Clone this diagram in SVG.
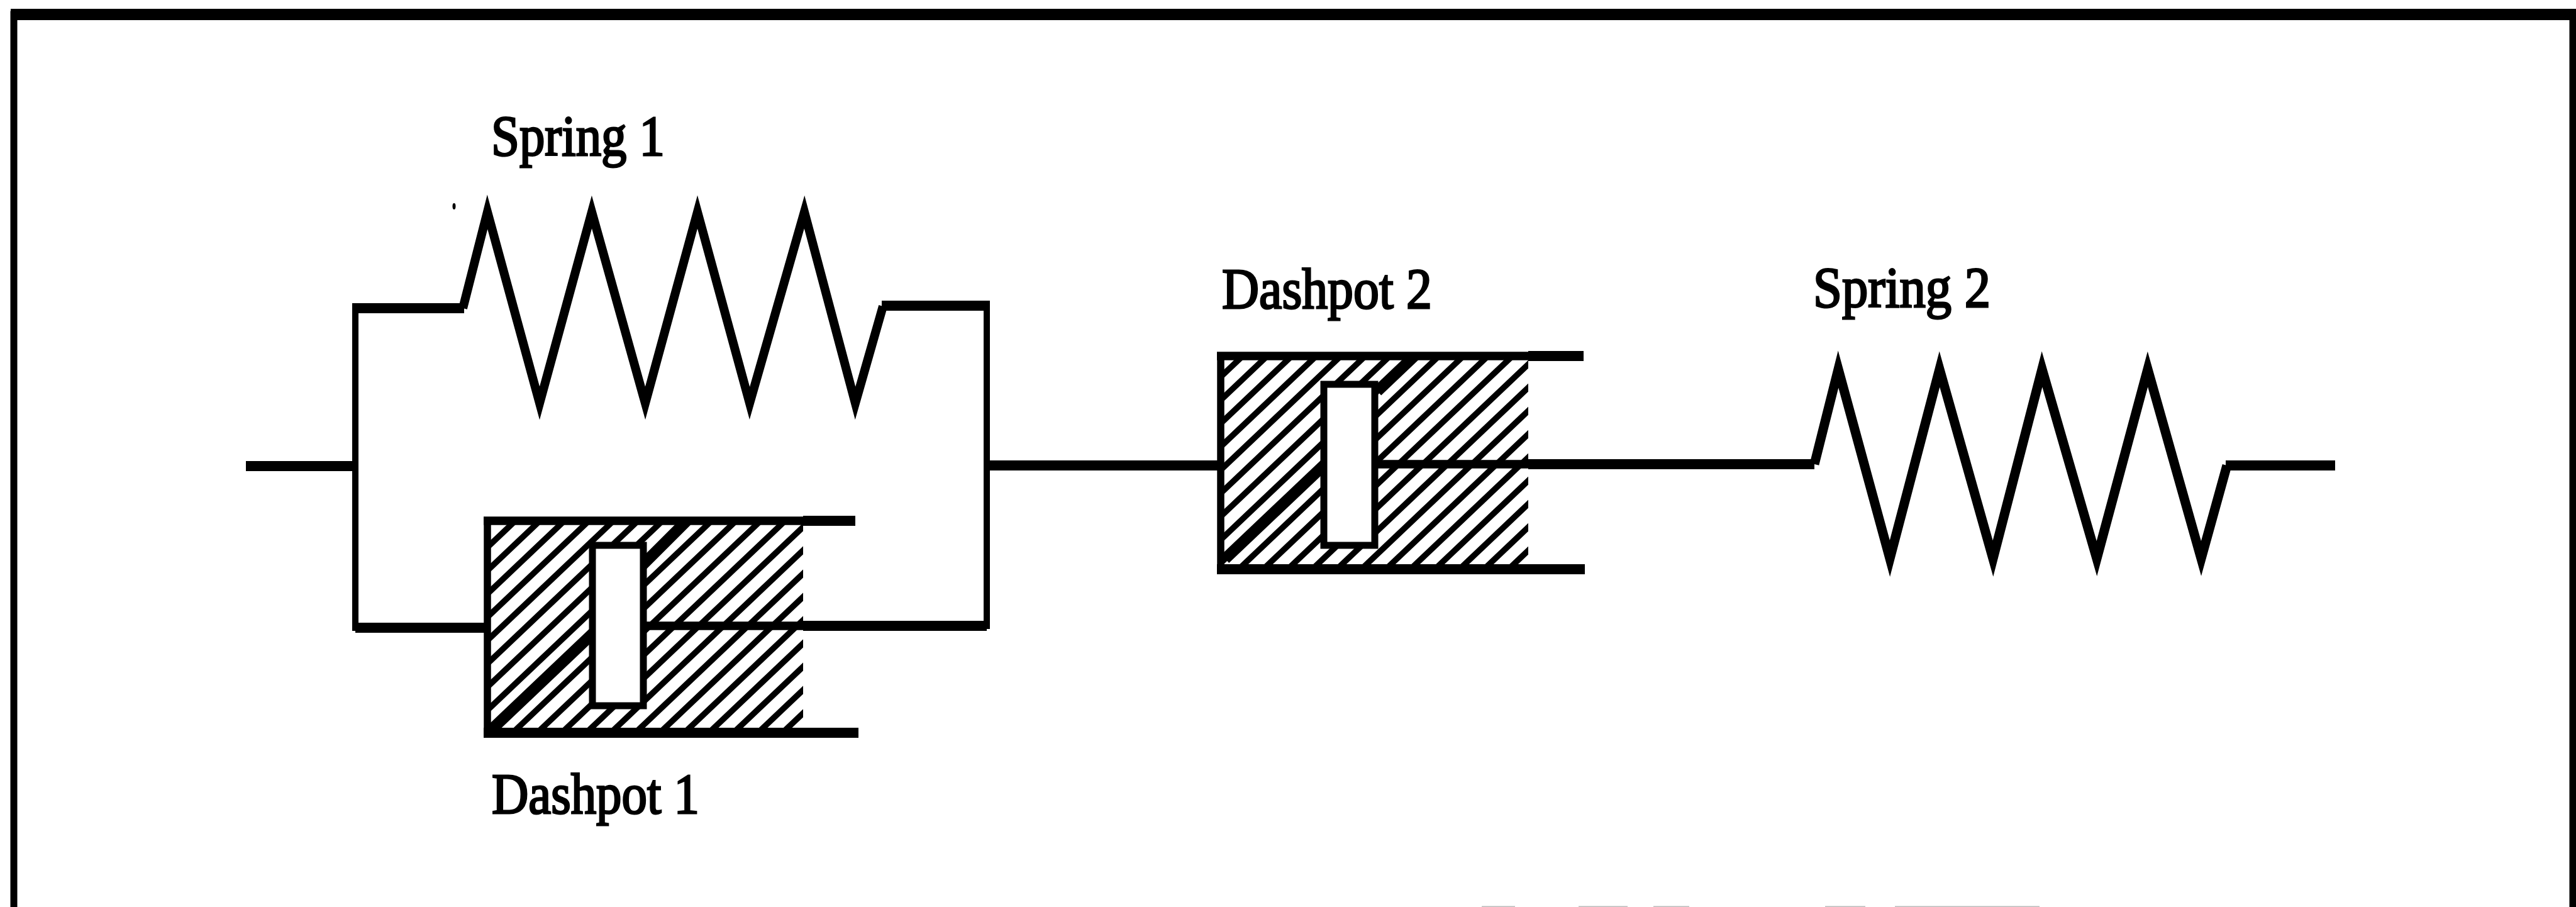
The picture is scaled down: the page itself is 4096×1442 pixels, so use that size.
<svg xmlns="http://www.w3.org/2000/svg" width="4096" height="1442" viewBox="0 0 4096 1442">
<style>
.l{fill:none;stroke:#000;stroke-linecap:butt;stroke-linejoin:miter;stroke-miterlimit:12}
.h{stroke-width:16}
.m{stroke-width:13.500}
.v{stroke-width:10}
.s{stroke-width:14}
.p{fill:#fff;stroke:#000;stroke-width:11}
.t{font-family:"Liberation Serif","Times New Roman",serif;font-size:92px;fill:#000;stroke:#000;stroke-width:3}
.b{stroke-width:18}
</style>
<defs>
<pattern id="hatch1" patternUnits="userSpaceOnUse" x="792" y="1113" width="39" height="37">
<path d="M-39 74L78-37M0 74L117-37M-78 74L39-37" fill="none" stroke="#000" stroke-width="9.500"/>
</pattern>
<pattern id="hatch2" href="#hatch1" x="1958" y="842"/>
<clipPath id="c1"><rect x="775" y="828" width="502" height="337"/></clipPath>
<clipPath id="c2"><rect x="1941" y="566" width="489" height="339"/></clipPath>
</defs>
<rect width="4096" height="1442" fill="#fff"/>
<g id="frame">
<path class="l" d="M22 1442V23H4091V1442" stroke-width="11"/>
<path class="l" d="M17 23H4096" stroke-width="18"/>
<path d="M2356 1440.500h53v1.500h-53zM2510 1440.500h78v1.500h-78zM2629 1440.500h57v1.500h-57zM2902 1440.500h64v1.500h-64zM3013 1440.500h230v1.500h-230z" fill="#bbb"/>
<ellipse cx="722" cy="328" rx="2.500" ry="5" fill="#000"/>
</g>
<g id="connectors">
<path class="l h" d="M391 741H565"/>
<path class="l h" d="M1569 740H1941"/>
<path class="l h" d="M565 998H775"/>
<path class="l h" d="M1277 995H1569"/>
<path class="l h" d="M2430 738H2885"/>
<path class="l v" d="M565 482V1003"/>
<path class="l v" d="M1569 478V1000"/>
</g>
<g id="spring1">
<path class="l h" d="M560 490H738M1402 486H1574"/>
<path class="l s" d="M736 490L775 337L858 641L941 337L1026 641L1109 337L1192 641L1279 337L1360 641L1404 487"/>
<text class="t" x="781" y="247" textLength="276" lengthAdjust="spacingAndGlyphs">Spring 1</text>
</g>
<g id="dashpot1">
<rect x="775" y="828" width="502" height="337" fill="url(#hatch1)"/>
<g clip-path="url(#c1)"><path class="l b" d="M782 1159.500L950 1000M1020 900L1100 820"/></g>
<rect class="p" x="942" y="867" width="81" height="255"/>
<path class="l m" d="M769 828H1277"/>
<path class="l h" d="M1277 828H1360M769 1165H1365"/>
<path class="l" stroke-width="11.500" d="M775 822V1173"/>
<path class="l m" d="M1028 995H1277"/>
<text class="t" x="782" y="1293" textLength="330" lengthAdjust="spacingAndGlyphs">Dashpot 1</text>
</g>
<g id="dashpot2">
<rect x="1941" y="566" width="489" height="339" fill="url(#hatch2)"/>
<g clip-path="url(#c2)"><path class="l b" d="M1948 888.500L2112 733M2190 622L2250 565"/></g>
<rect class="p" x="2105" y="611" width="81" height="256"/>
<path class="l m" d="M1935 566H2430"/>
<path class="l h" d="M2430 566H2518M1935 905H2520"/>
<path class="l" stroke-width="11.500" d="M1941 560V913"/>
<path class="l m" d="M2190 738H2430"/>
<text class="t" x="1943" y="490" textLength="334" lengthAdjust="spacingAndGlyphs">Dashpot 2</text>
</g>
<g id="spring2">
<path class="l h" d="M3539 740H3713"/>
<path class="l" stroke-width="15" d="M2885 738L2923 587L3005 888L3084 587L3169 888L3247 587L3334 888L3415 587L3500 888L3541 740"/>
<text class="t" x="2883" y="488" textLength="282" lengthAdjust="spacingAndGlyphs">Spring 2</text>
</g>
</svg>
